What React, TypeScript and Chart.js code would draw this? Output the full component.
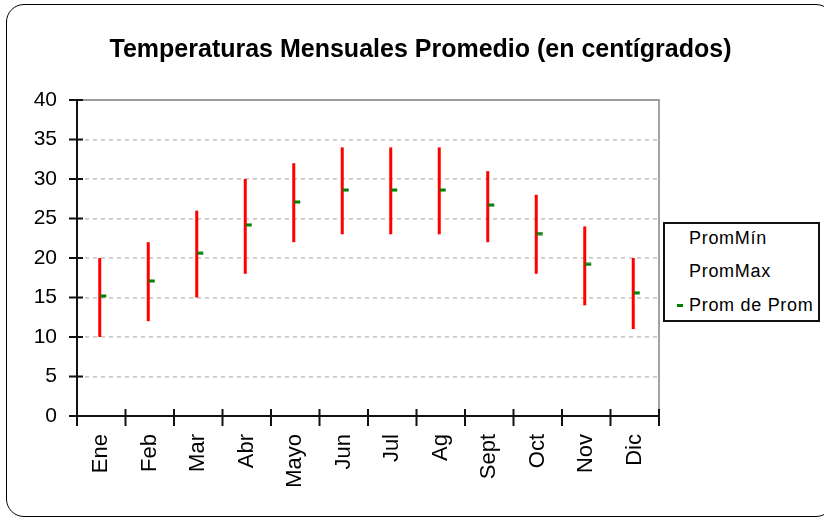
import React, { useEffect, useRef } from "react";
import { Chart, registerables } from "chart.js";

Chart.register(...registerables);

const TITLE = "Temperaturas Mensuales Promedio (en centígrados)";
const months = ["Ene", "Feb", "Mar", "Abr", "Mayo", "Jun", "Jul", "Ag", "Sept", "Oct", "Nov", "Dic"];
const promMin = [10, 12, 15, 18, 22, 23, 23, 23, 22, 18, 14, 11];
const promMax = [20, 22, 26, 30, 32, 34, 34, 34, 31, 28, 24, 20];
const promProm = [15.2, 17.1, 20.6, 24.2, 27.1, 28.6, 28.6, 28.6, 26.7, 23.1, 19.2, 15.6];
const seriesNames = ["PromMín", "PromMax", "Prom de Prom"];
const yMin = 0;
const yMax = 40;
const yStep = 5;

const FONT = "'Liberation Sans', Arial, sans-serif";
const RED = "#ff0000";
const GREEN = "#008000";

function makeMarker(): HTMLCanvasElement {
  const c = document.createElement("canvas");
  c.width = 12;
  c.height = 4;
  const g = c.getContext("2d")!;
  g.fillStyle = GREEN;
  g.fillRect(5, 0.5, 6, 3);
  return c;
}

const decorPlugin = {
  id: "excelDecor",
  beforeDatasetsDraw(chart: any) {
    const ctx = chart.ctx;
    const lo = chart.getDatasetMeta(0).data;
    const hi = chart.getDatasetMeta(1).data;
    ctx.save();
    ctx.strokeStyle = RED;
    ctx.lineWidth = 3;
    ctx.lineCap = "butt";
    for (let i = 0; i < lo.length; i++) {
      const a = lo[i];
      const b = hi[i];
      if (!a || !b) continue;
      ctx.beginPath();
      ctx.moveTo(a.x - 1.5, a.y);
      ctx.lineTo(b.x - 1.5, b.y);
      ctx.stroke();
    }
    ctx.restore();
  },
  afterDraw(chart: any) {
    const ctx = chart.ctx;
    const { left, right, top, bottom } = chart.chartArea;
    const xs = chart.scales.x;
    const ys = chart.scales.y;
    ctx.save();
    // plot border (top, right)
    ctx.strokeStyle = "#9a9a9a";
    ctx.lineWidth = 1.8;
    ctx.beginPath();
    ctx.moveTo(left, top);
    ctx.lineTo(right, top);
    ctx.lineTo(right, bottom);
    ctx.stroke();
    // axes
    ctx.strokeStyle = "#111";
    ctx.lineWidth = 2;
    ctx.beginPath();
    ctx.moveTo(left, top);
    ctx.lineTo(left, bottom);
    ctx.moveTo(left - 8, bottom);
    ctx.lineTo(right, bottom);
    ctx.stroke();
    // y cross ticks
    ctx.beginPath();
    for (const t of ys.ticks) {
      const y = ys.getPixelForValue(t.value);
      ctx.moveTo(left - 8, y);
      ctx.lineTo(left + 6, y);
    }
    // x cross ticks at category boundaries
    const n = chart.data.labels.length;
    for (let i = 0; i <= n; i++) {
      const x = xs.getPixelForValue(i - 0.5);
      ctx.moveTo(x, bottom - 7);
      ctx.lineTo(x, bottom + 10);
    }
    ctx.stroke();
    ctx.restore();
  },
};

export default function App() {
  const ref = useRef<HTMLCanvasElement | null>(null);

  useEffect(() => {
    if (!ref.current) return;
    const marker = makeMarker();
    const chart = new Chart(ref.current, {
      type: "line",
      data: {
        labels: months,
        datasets: [
          { label: seriesNames[0], data: promMin, showLine: false, pointRadius: 0, borderColor: RED, backgroundColor: RED },
          { label: seriesNames[1], data: promMax, showLine: false, pointRadius: 0, borderColor: RED, backgroundColor: RED },
          {
            label: seriesNames[2],
            data: promProm,
            showLine: false,
            pointStyle: marker as any,
            pointRadius: 3,
            borderColor: GREEN,
            backgroundColor: GREEN,
          },
        ],
      },
      options: {
        responsive: false,
        animation: false,
        devicePixelRatio: 1,
        layout: { padding: { top: 100, right: 165, bottom: 0, left: 0 } },
        plugins: {
          legend: { display: false },
          title: { display: false },
          tooltip: { enabled: false },
        },
        scales: {
          x: {
            type: "category",
            offset: true,
            grid: { display: false, drawTicks: false },
            border: { display: false },
            ticks: {
              minRotation: 90,
              maxRotation: 90,
              autoSkip: false,
              padding: 18,
              color: "#000",
              font: { family: FONT, size: 22 },
            },
            afterFit: (s: any) => {
              s.height = 102;
            },
          },
          y: {
            min: yMin,
            max: yMax,
            ticks: {
              stepSize: yStep,
              padding: 20,
              color: "#000",
              font: { family: FONT, size: 21 },
            },
            grid: {
              drawTicks: false,
              lineWidth: 1.7,
              color: (c: any) =>
                c.tick && (c.tick.value === yMin || c.tick.value === yMax) ? "rgba(0,0,0,0)" : "#c8c8c8",
            },
            border: { display: false, dash: [4, 4] },
            afterFit: (s: any) => {
              s.width = 77;
            },
          },
        },
      },
      plugins: [decorPlugin],
    });
    return () => chart.destroy();
  }, []);

  return (
    <div style={{ position: "absolute", left: 0, top: 0, width: 824, height: 518, overflow: "hidden", background: "#fff" }}>
      <div
        style={{
          position: "absolute",
          left: 6,
          top: 4,
          width: 828,
          height: 513,
          boxSizing: "border-box",
          border: "1.5px solid #000",
          borderRadius: 18,
        }}
      />
      <canvas ref={ref} width={824} height={518} style={{ position: "absolute", left: 0, top: 0 }} />
      <div
        style={{
          position: "absolute",
          left: 17,
          top: 33,
          width: 807,
          textAlign: "center",
          fontFamily: FONT,
          fontWeight: "bold",
          fontSize: 25,
          lineHeight: "30px",
          color: "#000",
          whiteSpace: "nowrap",
        }}
      >
        {TITLE}
      </div>
      <div
        style={{
          position: "absolute",
          left: 663,
          top: 222,
          width: 157,
          height: 100,
          boxSizing: "border-box",
          border: "2px solid #111",
          background: "#fff",
          fontFamily: FONT,
          fontSize: 18,
          color: "#000",
        }}
      >
        {seriesNames.map((name, i) => (
          <div
            key={name}
            style={{
              position: "absolute",
              left: 0,
              top: -2 + i * 33.3,
              height: 33,
              lineHeight: "33px",
              width: 155,
              whiteSpace: "nowrap",
            }}
          >
            {i === 2 && (
              <span
                style={{
                  position: "absolute",
                  left: 12,
                  top: 15,
                  width: 6,
                  height: 3,
                  background: GREEN,
                }}
              />
            )}
            <span style={{ position: "absolute", left: 24, letterSpacing: "0.7px" }}>{name}</span>
          </div>
        ))}
      </div>
    </div>
  );
}
